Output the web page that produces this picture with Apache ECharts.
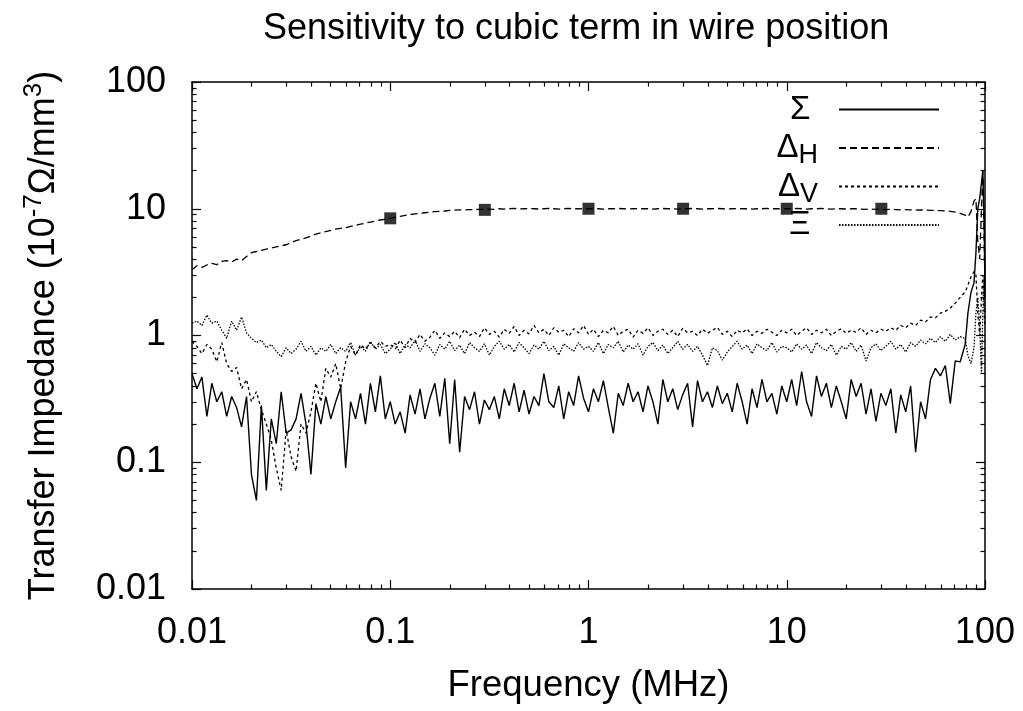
<!DOCTYPE html>
<html><head><meta charset="utf-8">
<script src="https://cdn.jsdelivr.net/npm/echarts@6/dist/echarts.min.js"></script>
<style>html,body{margin:0;padding:0;background:#fff}#c{width:1023px;height:711px}</style>
</head><body><div id="c"></div>
<script>
// Frequencies (MHz)
const freq = [
0.01, 0.01059, 0.01122, 0.01189, 0.01259, 0.01334, 0.01413, 0.01496, 0.01585, 0.01679,
0.01778, 0.01884, 0.01995, 0.02113, 0.02239, 0.02371, 0.02512, 0.02661, 0.02818, 0.02985,
0.03162, 0.0335, 0.03548, 0.03758, 0.03981, 0.04217, 0.04467, 0.04732, 0.05012, 0.05309,
0.05623, 0.05957, 0.0631, 0.06683, 0.07079, 0.07499, 0.07943, 0.08414, 0.08913, 0.09441,
0.1, 0.1059, 0.1122, 0.1189, 0.1259, 0.1334, 0.1413, 0.1496, 0.1585, 0.1679,
0.1778, 0.1884, 0.1995, 0.2113, 0.2239, 0.2371, 0.2512, 0.2661, 0.2818, 0.2985,
0.3162, 0.335, 0.3548, 0.3758, 0.3981, 0.4217, 0.4467, 0.4732, 0.5012, 0.5309,
0.5623, 0.5957, 0.631, 0.6683, 0.7079, 0.7499, 0.7943, 0.8414, 0.8913, 0.9441,
1, 1.059, 1.122, 1.189, 1.259, 1.334, 1.413, 1.496, 1.585, 1.679,
1.778, 1.884, 1.995, 2.113, 2.239, 2.371, 2.512, 2.661, 2.818, 2.985,
3.162, 3.35, 3.548, 3.758, 3.981, 4.217, 4.467, 4.732, 5.012, 5.309,
5.623, 5.957, 6.31, 6.683, 7.079, 7.499, 7.943, 8.414, 8.913, 9.441,
10, 10.59, 11.22, 11.89, 12.59, 13.34, 14.13, 14.96, 15.85, 16.79,
17.78, 18.84, 19.95, 21.13, 22.39, 23.71, 25.12, 26.61, 28.18, 29.85,
31.62, 33.5, 35.48, 37.58, 39.81, 42.17, 44.67, 47.32, 50.12, 53.09,
56.23, 59.57, 63.1, 66.83, 70.79, 74.99, 79.43,
82, 85, 88, 90, 92, 94, 96, 97.5, 99, 100
];
// Sigma (solid)
const sigma = [
0.5, 0.38, 0.47, 0.23, 0.42, 0.3, 0.36, 0.23, 0.33, 0.27,
0.19, 0.33, 0.08, 0.05, 0.28, 0.06, 0.22, 0.14, 0.36, 0.17,
0.18, 0.22, 0.35, 0.2, 0.08, 0.29, 0.2, 0.33, 0.22, 0.3,
0.39, 0.09, 0.3, 0.22, 0.35, 0.2, 0.42, 0.25, 0.48, 0.22,
0.3, 0.2, 0.25, 0.17, 0.34, 0.24, 0.38, 0.22, 0.32, 0.42,
0.23, 0.46, 0.14, 0.45, 0.12, 0.33, 0.26, 0.36, 0.2, 0.31,
0.26, 0.33, 0.22, 0.38, 0.28, 0.42, 0.25, 0.37, 0.24, 0.33,
0.28, 0.5, 0.3, 0.27, 0.4, 0.22, 0.36, 0.28, 0.48, 0.32,
0.25, 0.38, 0.3, 0.44, 0.27, 0.17, 0.35, 0.28, 0.42, 0.3,
0.36, 0.25, 0.4, 0.3, 0.2, 0.45, 0.3, 0.38, 0.26, 0.34,
0.42, 0.19, 0.44, 0.3, 0.36, 0.27, 0.4, 0.29, 0.35, 0.25,
0.42, 0.3, 0.2, 0.38, 0.27, 0.45, 0.3, 0.35, 0.24, 0.4,
0.3, 0.45, 0.28, 0.52, 0.3, 0.23, 0.48, 0.33, 0.42, 0.27,
0.4, 0.3, 0.22, 0.45, 0.33, 0.42, 0.24, 0.38, 0.21, 0.35,
0.28, 0.38, 0.17, 0.34, 0.25, 0.4, 0.12, 0.3, 0.22, 0.45,
0.55, 0.48, 0.58, 0.29, 0.63, 0.62, 0.85,
1.5, 2.2, 2.6, 4.5, 10, 12, 16, 20, 8, 2
];
// Delta_H (dashed)
const deltaH = [
3.3, 3.55, 3.45, 3.6, 3.7, 3.62, 3.85, 3.9, 3.8, 4.0,
3.9, 4.2, 4.5, 4.6, 4.7, 4.8, 4.9, 5.0, 5.1, 5.2,
5.4, 5.6, 5.75, 5.9, 6.1, 6.3, 6.45, 6.6, 6.75, 6.9,
7.0, 7.1, 7.25, 7.4, 7.55, 7.7, 7.85, 8.0, 8.15, 8.25,
8.4, 8.55, 8.7, 8.85, 9.0, 9.1, 9.2, 9.3, 9.4, 9.5,
9.55, 9.6, 9.7, 9.75, 9.8, 9.8, 9.85, 9.85, 9.9, 9.9,
9.95, 9.9, 10.0, 9.95, 10.0, 10.05, 9.95, 10.0, 10.05, 10.0,
9.95, 10.0, 10.05, 10.0, 9.95, 10.0, 10.05, 10.0, 10.0, 9.95,
10.0, 10.05, 10.0, 9.95, 10.0, 10.0, 10.05, 10.0, 9.95, 10.0,
10.05, 10.0, 10.0, 9.95, 10.0, 10.05, 10.0, 10.0, 9.95, 10.0,
10.0, 10.05, 10.0, 9.95, 10.0, 10.0, 10.05, 10.0, 9.95, 10.0,
10.05, 10.0, 10.0, 9.95, 10.0, 10.0, 10.05, 10.0, 10.0, 9.95,
10.0, 10.0, 10.05, 10.0, 9.95, 10.0, 10.0, 10.05, 10.0, 9.95,
10.0, 10.0, 9.95, 10.0, 10.0, 9.95, 9.9, 9.95, 9.9, 9.9,
9.85, 9.9, 9.85, 9.8, 9.85, 9.8, 9.75, 9.8, 9.75, 9.7,
9.7, 9.65, 9.6, 9.55, 9.4, 9.2, 8.9,
8.6, 9.5, 11.5, 12, 5.5, 4, 10, 20, 6, 2.5
];
// Delta_V (short dashes)
const deltaV = [
0.9, 0.82, 0.72, 0.85, 0.78, 0.62, 0.88, 0.6, 0.52, 0.56,
0.38, 0.45, 0.3, 0.36, 0.26, 0.2, 0.15, 0.09, 0.06, 0.18,
0.11, 0.085, 0.2, 0.17, 0.25, 0.42, 0.3, 0.55, 0.47, 0.6,
0.38, 0.62, 0.82, 0.7, 0.85, 0.78, 0.88, 0.8, 0.9, 0.82,
0.85, 0.78, 0.92, 0.8, 0.95, 0.88, 1.02, 0.9, 0.97, 1.1,
0.95, 1.05, 0.98, 1.08, 0.96, 1.12, 1.0, 1.06, 0.98, 1.15,
1.02, 1.08, 0.97, 1.12, 1.04, 1.18, 1.0, 1.1, 1.03, 1.2,
1.05, 1.12, 1.0, 1.15, 1.06, 1.1, 0.98, 1.13, 1.05, 1.2,
1.02, 1.12, 0.98, 1.1, 1.05, 1.18, 1.0, 1.08, 1.12, 0.97,
1.1, 1.04, 1.15, 1.0, 1.08, 1.12, 1.02, 1.1, 0.98, 1.14,
1.05, 1.08, 1.0, 1.12, 1.04, 1.1, 1.16, 1.02, 1.08, 0.98,
1.1, 1.05, 1.13, 1.0, 1.08, 1.04, 1.12, 1.06, 1.0, 1.1,
1.05, 1.12, 1.0, 1.08, 1.15, 1.02, 1.1, 1.05, 1.12, 1.0,
1.08, 1.13, 1.04, 1.1, 1.06, 1.15, 1.02, 1.1, 1.05, 1.12,
1.08, 1.15, 1.1, 1.2, 1.15, 1.25, 1.2, 1.32, 1.28, 1.4,
1.38, 1.5, 1.55, 1.65, 1.8, 2.0, 2.2,
2.5, 2.9, 3.2, 3.0, 1.5, 1.0, 2.0, 3.0, 1.5, 1.2
];
// Xi (fine dots)
const xi = [
1.25, 1.3, 1.2, 1.45, 1.25, 1.3, 1.1, 0.95, 1.3, 1.1,
1.4, 1.05, 0.95, 0.88, 0.92, 0.8, 0.85, 0.75, 0.68, 0.8,
0.72, 0.78, 0.9, 0.75, 0.82, 0.7, 0.8, 0.75, 0.85, 0.72,
0.8, 0.75, 0.88, 0.7, 0.82, 0.75, 0.9, 0.78, 0.85, 0.72,
0.78, 0.88, 0.72, 0.85, 0.8, 0.92, 0.75, 0.86, 0.8, 0.7,
0.85, 0.78, 0.9, 0.76, 0.84, 0.72, 0.88, 0.8, 0.75, 0.86,
0.7, 0.82, 0.9, 0.78, 0.85, 0.74, 0.88, 0.8, 0.72, 0.84,
0.78, 0.9, 0.76, 0.82, 0.7, 0.86, 0.8, 0.75, 0.88, 0.78,
0.82, 0.75, 0.88, 0.72, 0.85, 0.8, 0.9, 0.74, 0.84, 0.78,
0.86, 0.7, 0.82, 0.88, 0.76, 0.84, 0.72, 0.8, 0.9, 0.78,
0.85, 0.75, 0.82, 0.7, 0.58, 0.8, 0.76, 0.64, 0.74, 0.82,
0.9, 0.78, 0.84, 0.72, 0.86, 0.8, 0.76, 0.88, 0.74, 0.82,
0.8, 0.74, 0.86, 0.78, 0.84, 0.72, 0.88, 0.8, 0.76, 0.85,
0.7, 0.82, 0.78, 0.88, 0.75, 0.84, 0.63, 0.8, 0.86, 0.76,
0.82, 0.9, 0.78, 0.85, 0.74, 0.88, 0.82, 0.92, 0.86, 0.95,
0.88, 0.98, 0.9, 1.02, 0.92, 0.98, 0.95,
0.7, 0.6, 0.8, 1.5, 2.0, 1.2, 0.5, 1.5, 3, 1.5
];
// Measured points (squares)
const markerFreq = [0.1, 0.3, 1, 3, 10, 30];
const markerVal = [8.4, 9.8, 10, 10, 10, 10];

const xTicks = [0.01, 0.1, 1, 10, 100];
const xTickLabels = ['0.01', '0.1', '1', '10', '100'];
const yTicks = [0.01, 0.1, 1, 10, 100];
const yTickLabels = ['0.01', '0.1', '1', '10', '100'];
const minorTicks = [0.02,0.03,0.04,0.05,0.06,0.07,0.08,0.09,
  0.2,0.3,0.4,0.5,0.6,0.7,0.8,0.9, 2,3,4,5,6,7,8,9, 20,30,40,50,60,70,80,90];

const seriesNames = ['Σ', 'ΔH', 'ΔV', 'Ξ'];
const legendText = {'Σ': '{m|Σ}{s| }{g| }', 'ΔH': '{m|Δ}{s|H}{g| }', 'ΔV': '{m|Δ}{s|V}{g| }', 'Ξ': '{m|Ξ}{s| }{g| }'};

const FONT = '"Liberation Sans", Arial, Helvetica, sans-serif';
const zip = (xs, ys) => xs.map((x, i) => [x, ys[i]]);
const lab = (ticks, labels) => v => { const i = ticks.findIndex(t => Math.abs(t - v) / t < 1e-6); return i >= 0 ? labels[i] : ''; };
const BLACK = '#000';

function mkAxis(pos, major, withLine, extra) {
  return Object.assign({
    type: 'log', logBase: 10, min: 0.01, max: 100, position: pos,
    axisLine: {show: withLine, onZero: false, lineStyle: {color: BLACK, width: 1.5}},
    axisTick: {show: true, inside: true, length: major ? 9 : 4.5, customValues: major ? xTicks : minorTicks,
      lineStyle: {color: BLACK, width: 1.2}},
    axisLabel: {show: false},
    splitLine: {show: false}, minorTick: {show: false}, minorSplitLine: {show: false}
  }, extra || {});
}

const chart = echarts.init(document.getElementById('c'), null, {renderer: 'canvas'});
chart.setOption({
  animation: false,
  backgroundColor: '#fff',
  textStyle: {fontFamily: FONT},
  title: {
    text: 'Sensitivity to cubic term in wire position',
    left: 258, top: 6,
    textStyle: {fontFamily: FONT, fontSize: 36, fontWeight: 'normal', color: BLACK}
  },
  grid: {left: 192, right: 38, top: 82, bottom: 122, containLabel: false},
  legend: {
    data: seriesNames,
    orient: 'vertical', right: 83, top: 88, align: 'right', padding: 0,
    itemWidth: 100, itemHeight: 10, itemGap: -4.5, selectedMode: false,
    formatter: n => legendText[n],
    itemStyle: {opacity: 0},
    textStyle: {color: BLACK, fontFamily: FONT, fontSize: 33,
      rich: {
        m: {fontSize: 33, lineHeight: 31, color: BLACK, fontFamily: FONT},
        s: {fontSize: 27, lineHeight: 15, padding: [16, 0, 0, 0], color: BLACK, fontFamily: FONT},
        g: {width: 16, fontSize: 10, lineHeight: 10}
      }}
  },
  xAxis: [
    mkAxis('bottom', true, true, {
      axisLabel: {show: true, customValues: xTicks, formatter: lab(xTicks, xTickLabels),
        fontSize: 36, color: BLACK, fontFamily: FONT, margin: 26},
      name: 'Frequency (MHz)', nameLocation: 'middle', nameGap: 78,
      nameTextStyle: {fontSize: 36.5, color: BLACK, fontFamily: FONT}
    }),
    mkAxis('bottom', false, false),
    mkAxis('top', true, true),
    mkAxis('top', false, false)
  ],
  yAxis: [
    mkAxis('left', true, true, {
      axisTick: {show: true, inside: true, length: 9, customValues: yTicks, lineStyle: {color: BLACK, width: 1.2}},
      axisLabel: {show: true, customValues: yTicks, formatter: lab(yTicks, yTickLabels),
        fontSize: 36, color: BLACK, fontFamily: FONT, margin: 26},
      name: 'Transfer Impedance (10{sup|-7}Ω/mm{sup|3})', nameLocation: 'middle', nameGap: 128, nameRotate: 90,
      nameTextStyle: {fontSize: 36, color: BLACK, fontFamily: FONT, lineHeight: 40,
        rich: {sup: {fontSize: 26, lineHeight: 20, padding: [0, 0, 20, 0], color: BLACK, fontFamily: FONT}}}
    }),
    mkAxis('left', false, false),
    mkAxis('right', true, true, {axisTick: {show: true, inside: true, length: 9, customValues: yTicks, lineStyle: {color: BLACK, width: 1.2}}}),
    mkAxis('right', false, false)
  ],
  series: [
    {type: 'line', name: 'Σ', data: zip(freq, sigma), showSymbol: false, symbol: 'none', z: 5,
      lineStyle: {color: BLACK, width: 1.4, type: 'solid'}, itemStyle: {color: BLACK}},
    {type: 'line', name: 'ΔH', data: zip(freq, deltaH), showSymbol: false, symbol: 'none', z: 4,
      lineStyle: {color: BLACK, width: 1.3, type: [7, 4]}, itemStyle: {color: BLACK}},
    {type: 'line', name: 'ΔV', data: zip(freq, deltaV), showSymbol: false, symbol: 'none', z: 3,
      lineStyle: {color: BLACK, width: 1.3, type: [3, 3]}, itemStyle: {color: BLACK}},
    {type: 'line', name: 'Ξ', data: zip(freq, xi), showSymbol: false, symbol: 'none', z: 2,
      lineStyle: {color: BLACK, width: 1.3, type: [1.5, 1.5]}, itemStyle: {color: BLACK}},
    {type: 'scatter', name: 'points', data: zip(markerFreq, markerVal), symbol: 'rect', symbolSize: 12, z: 6,
      itemStyle: {color: BLACK}}
  ]
});
</script></body></html>
